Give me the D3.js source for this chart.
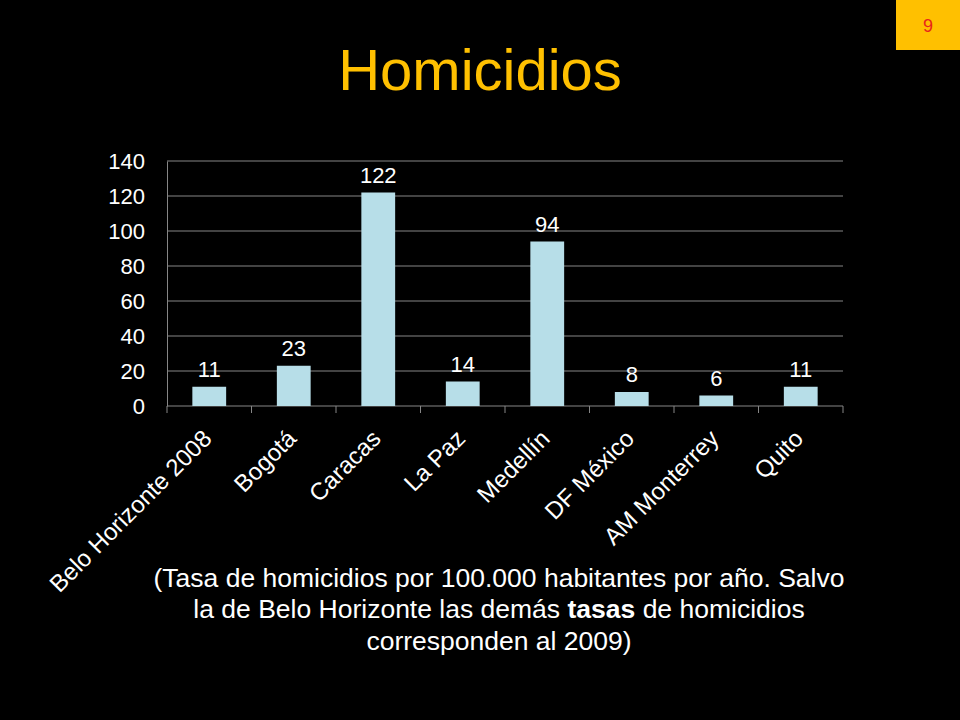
<!DOCTYPE html>
<html>
<head>
<meta charset="utf-8">
<script src="https://cdn.jsdelivr.net/npm/d3@7"></script>
<style>
  html, body { margin: 0; padding: 0; background: #000; }
  svg { display: block; font-family: Arial, "Liberation Sans", sans-serif; }
</style>
</head>
<body>
<div id="chart"></div>
<script>
// Datos del gráfico
const ciudades = ['Belo Horizonte 2008', 'Bogotá', 'Caracas', 'La Paz', 'Medellín', 'DF México', 'AM Monterrey', 'Quito'];
const tasas = [11, 23, 122, 14, 94, 8, 6, 11];
const yTicks = [0, 20, 40, 60, 80, 100, 120, 140];
const titulo = 'Homicidios';
const numeroDiapositiva = '9';

const width = 960;
const height = 720;
const margin = { top: 161, right: 117, bottom: 314, left: 167 };

const svg = d3.select('#chart')
    .append('svg')
    .attr('width', width)
    .attr('height', height);

svg.append('rect')
    .attr('width', width)
    .attr('height', height)
    .attr('fill', '#000');

// Número de diapositiva
svg.append('rect')
    .attr('x', 896)
    .attr('y', 0)
    .attr('width', 64)
    .attr('height', 50)
    .attr('fill', '#FFC000');

svg.append('text')
    .attr('x', 928)
    .attr('y', 32)
    .attr('text-anchor', 'middle')
    .attr('font-size', 18)
    .attr('fill', '#E8251B')
    .text(numeroDiapositiva);

// Título
svg.append('text')
    .attr('x', 480)
    .attr('y', 90)
    .attr('text-anchor', 'middle')
    .attr('font-size', 58)
    .attr('fill', '#FFC000')
    .text(titulo);

const innerW = width - margin.left - margin.right;
const innerH = height - margin.top - margin.bottom;

const chart = svg.append('g')
    .attr('transform', `translate(${margin.left},${margin.top})`);

const x = d3.scaleBand()
    .domain(ciudades)
    .range([0, innerW])
    .paddingInner(0.6)
    .paddingOuter(0.3);

const y = d3.scaleLinear()
    .domain([0, 140])
    .range([innerH, 0]);

// Líneas de cuadrícula
chart.append('g')
    .selectAll('line')
    .data(yTicks.filter(d => d > 0))
    .join('line')
    .attr('x1', 0)
    .attr('x2', innerW)
    .attr('y1', d => y(d))
    .attr('y2', d => y(d))
    .attr('stroke', '#868686')
    .attr('stroke-width', 1);

// Eje Y
const yAxis = chart.append('g')
    .call(d3.axisLeft(y).tickValues(yTicks).tickSize(0).tickPadding(22));
yAxis.select('.domain').attr('stroke', '#868686');
yAxis.selectAll('text')
    .attr('font-size', 22)
    .attr('fill', '#fff')
    .attr('font-family', 'Arial, "Liberation Sans", sans-serif');

// Eje X: línea base y marcas entre categorías
const bordes = d3.range(ciudades.length + 1).map(i => i * innerW / ciudades.length);
chart.append('line')
    .attr('x1', 0)
    .attr('x2', innerW)
    .attr('y1', y(0))
    .attr('y2', y(0))
    .attr('stroke', '#868686');
chart.append('g')
    .selectAll('line')
    .data(bordes)
    .join('line')
    .attr('x1', d => d)
    .attr('x2', d => d)
    .attr('y1', y(0))
    .attr('y2', y(0) + 7)
    .attr('stroke', '#868686');

// Barras
chart.append('g')
    .selectAll('rect')
    .data(tasas)
    .join('rect')
    .attr('x', (d, i) => x(ciudades[i]))
    .attr('y', d => y(d))
    .attr('width', x.bandwidth())
    .attr('height', d => y(0) - y(d))
    .attr('fill', '#B7DEE8');

// Etiquetas de valores
chart.append('g')
    .selectAll('text')
    .data(tasas)
    .join('text')
    .attr('x', (d, i) => x(ciudades[i]) + x.bandwidth() / 2)
    .attr('y', d => y(d) - 10)
    .attr('text-anchor', 'middle')
    .attr('font-size', 22)
    .attr('fill', '#fff')
    .text(d => d);

// Etiquetas de categorías
chart.append('g')
    .selectAll('text')
    .data(ciudades)
    .join('text')
    .attr('transform', d => `translate(${x(d) + x.bandwidth() / 2 + 4},${innerH + 34}) rotate(-45)`)
    .attr('text-anchor', 'end')
    .attr('font-size', 24)
    .attr('fill', '#fff')
    .text(d => d);

// Nota al pie
const notaX = 499;
const nota = svg.append('text')
    .attr('text-anchor', 'middle')
    .attr('font-size', 26.5)
    .attr('fill', '#fff');

nota.append('tspan')
    .attr('x', notaX)
    .attr('y', 587)
    .text('(Tasa de homicidios por 100.000 habitantes por año. Salvo');

const linea2 = nota.append('tspan')
    .attr('x', notaX)
    .attr('y', 618);
linea2.append('tspan').text('la de Belo Horizonte las demás ');
linea2.append('tspan').attr('font-weight', 'bold').text('tasas');
linea2.append('tspan').text(' de homicidios');

nota.append('tspan')
    .attr('x', notaX)
    .attr('y', 650)
    .text('corresponden al 2009)');
</script>
</body>
</html>
